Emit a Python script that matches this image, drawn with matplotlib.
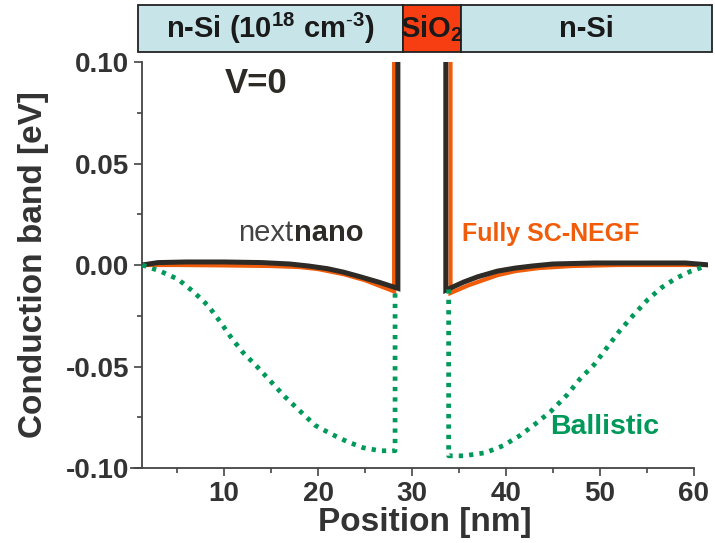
import matplotlib
matplotlib.use('Agg')
import matplotlib.pyplot as plt
import matplotlib.patches as patches
from matplotlib.ticker import MultipleLocator

plt.rcParams['font.family'] = ['Liberation Sans', 'DejaVu Sans']
plt.rcParams['mathtext.fontset'] = 'custom'
plt.rcParams['mathtext.rm'] = 'Liberation Sans'
plt.rcParams['mathtext.bf'] = 'Liberation Sans:bold'

# ── Data ──────────────────────────────────────────────────────────────────────

# nextnano, left and right of the oxide (dark line)
nn_left_x = [1.3, 3, 6, 10, 14, 17, 19, 21, 22.7, 24.5, 26.5, 28.5, 28.5]
nn_left_y = [0.0, 0.0012, 0.0015, 0.0015, 0.0012, 0.0005, -0.0005, -0.0018,
             -0.0035, -0.0058, -0.0085, -0.0115, 0.12]
nn_right_x = [33.6, 33.6, 35.5, 37, 39.1, 41, 42.8, 45, 49.4, 55, 59.1, 61.7]
nn_right_y = [0.12, -0.0124, -0.0084, -0.0058, -0.003, -0.0015, -0.0005,
              0.0005, 0.001, 0.001, 0.001, 0.0]

# fully self-consistent NEGF (orange)
sc_left_x = [1.3, 5, 10, 15, 18, 20, 22.7, 25, 28.1, 28.1]
sc_left_y = [0.0, 0.0, -0.0002, -0.0005, -0.001, -0.002, -0.0045, -0.0075,
             -0.013, 0.12]
sc_right_x = [34.1, 34.1, 36, 39.1, 41, 43.5, 47, 52, 58, 61.7]
sc_right_y = [0.12, -0.0138, -0.010, -0.005, -0.003, -0.0015, -0.0005, 0.0,
              0.0, 0.0]

# ballistic (green dotted)
bal_left_x = [1.3, 3.2, 5.1, 6.7, 8.3, 9.6, 10.8, 12.0, 13.5, 15.1, 16.5,
              18.1, 19.7, 21.3, 23.1, 24.8, 26.6, 28.2, 28.2]
bal_left_y = [0.0, -0.003, -0.007, -0.013, -0.020, -0.028, -0.036, -0.043,
              -0.050, -0.058, -0.065, -0.072, -0.079, -0.083, -0.087, -0.090,
              -0.0915, -0.0915, -0.013]
bal_right_x = [33.9, 33.9, 35.5, 37.8, 39.7, 41.5, 43.2, 44.8, 46.5, 47.9,
               49.4, 50.7, 52.0, 53.5, 55.1, 56.6, 58.1, 59.7, 61.3]
bal_right_y = [-0.012, -0.094, -0.094, -0.0925, -0.089, -0.084, -0.078,
               -0.072, -0.064, -0.056, -0.049, -0.041, -0.033, -0.025, -0.017,
               -0.011, -0.0065, -0.003, -0.0005]

# device layers shown in the strip above the plot
layer_edges = [0.85, 29.0, 35.2, 61.9]
layer_names = [r'n-Si (10$^{\mathbf{18}}$ cm$^{\mathbf{\text{-}3}}$)',
               r'SiO$_{\mathbf{2}}$', 'n-Si']
layer_colors = ['#c7e5e8', '#f73e12', '#c7e5e8']

# ── Plot ──────────────────────────────────────────────────────────────────────

c_nn = '#2e2b27'
c_sc = '#f05c0a'
c_bal = '#00995a'
c_txt = '#333333'

fig = plt.figure(figsize=(7.15, 5.43), dpi=100)
ax = fig.add_axes([0.1982, 0.1381, 0.792, 0.7477])

for x, y in [(sc_left_x, sc_left_y), (sc_right_x, sc_right_y)]:
    ax.plot(x, y, color=c_sc, lw=3.0, solid_joinstyle='miter', zorder=2)
for x, y in [(nn_left_x, nn_left_y), (nn_right_x, nn_right_y)]:
    ax.plot(x, y, color=c_nn, lw=3.6, solid_joinstyle='miter', zorder=3)
for x, y in [(bal_left_x, bal_left_y), (bal_right_x, bal_right_y)]:
    ax.plot(x, y, color=c_bal, lw=3.4, ls=(0, (0.9, 1.3)), zorder=4)

ax.set_xlim(1.24, 61.5)
ax.set_ylim(-0.1, 0.1)
ax.xaxis.set_minor_locator(MultipleLocator(5))
ax.yaxis.set_minor_locator(MultipleLocator(0.025))
ax.set_xticks([10, 20, 30, 40, 50, 60])
ax.set_yticks([-0.10, -0.05, 0.0, 0.05, 0.10])
ax.set_yticklabels(['-0.10', '-0.05', '0.00', '0.05', '0.10'])

for s in ['top', 'right']:
    ax.spines[s].set_visible(False)
for s in ['left', 'bottom']:
    ax.spines[s].set_color('#444444')
    ax.spines[s].set_linewidth(1.3)
ax.spines['bottom'].set_bounds(0.1, 60)

ax.tick_params(which='major', length=6, width=1.2, color='#444444',
               labelsize=20, labelcolor=c_txt, pad=3)
ax.tick_params(which='minor', length=3.5, width=1.2, color='#444444')
for lab in ax.get_xticklabels() + ax.get_yticklabels():
    lab.set_fontweight('bold')

ax.set_xlabel('Position [nm]', fontsize=24, fontweight='bold', color=c_txt,
              labelpad=0)
ax.set_ylabel('Conduction band [eV]', fontsize=24, fontweight='bold',
              color=c_txt, labelpad=12)

ax.text(13.4, 0.0896, 'V=0', fontsize=25, fontweight='bold', color=c_nn,
        ha='center', va='center')
ax.text(17.4, 0.0158, 'next', fontsize=21, color='#444444',
        ha='right', va='center')
ax.text(17.4, 0.0158, 'nano', fontsize=21, fontweight='bold', color=c_nn,
        ha='left', va='center')
ax.text(35.3, 0.0153, 'Fully SC-NEGF', fontsize=18, fontweight='bold',
        color=c_sc, ha='left', va='center')
ax.text(44.7, -0.0797, 'Ballistic', fontsize=20.5, fontweight='bold',
        color=c_bal, ha='left', va='center')

# layer strip above the axes
band = fig.add_axes([0.1982, 0.9042, 0.792, 0.0866])
band.set_xlim(ax.get_xlim())
band.set_ylim(0, 1)
band.axis('off')
for i, name in enumerate(layer_names):
    x0, x1 = layer_edges[i], layer_edges[i + 1]
    band.add_patch(patches.Rectangle((x0, 0), x1 - x0, 1, facecolor=layer_colors[i],
                                     edgecolor='#222222', lw=1.3, clip_on=False))
    band.text((x0 + x1) / 2, 0.5, name, fontsize=21, fontweight='bold',
              color='#1a1a1a', ha='center', va='center', clip_on=False)

fig.savefig('out.png', dpi=100)
